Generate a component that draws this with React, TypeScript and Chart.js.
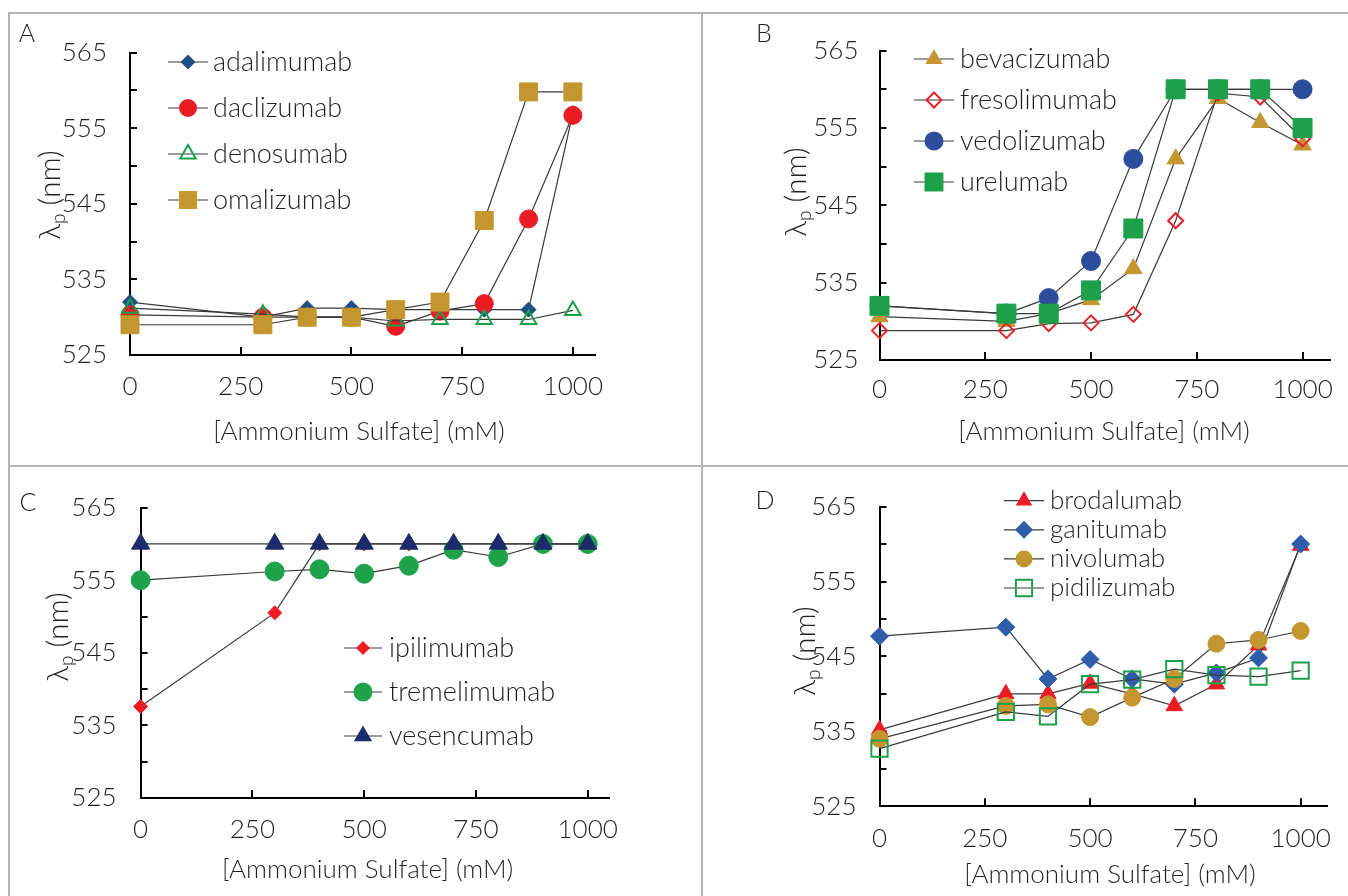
import React, { useEffect, useRef } from 'react';
import { Chart, registerables } from 'chart.js';

Chart.register(...registerables);

// ---------- data ----------
const concentrations = [0, 300, 400, 500, 600, 700, 800, 900, 1000];
const xTickValues = [0, 250, 500, 750, 1000];
const yTickValues = [525, 530, 535, 540, 545, 550, 555, 560, 565];
const yLabelValues = [525, 535, 545, 555, 565];

// Panel A
const adalimumab = [532, 530, 531.2, 531.2, 531, 531, 531, 531, 557];
const daclizumab = [530.3, 530, 530, 530, 528.8, 530.8, 531.8, 543, 556.7];
const denosumab = [531.2, 530.4, 530, 530, 529.5, 529.7, 529.7, 529.7, 530.9];
const omalizumab = [529, 529, 530, 530, 531, 532, 542.8, 559.8, 559.8];

// Panel B
const bevacizumab = [530.6, 530, 531, 532.8, 536.8, 551, 558.8, 555.7, 552.8];
const fresolimumab = [528.8, 528.8, 529.7, 529.8, 530.9, 543, 559.5, 559, 553.6];
const vedolizumab = [532, 531, 533, 537.8, 551, 560, 560, 560, 560];
const urelumab = [532, 531, 531, 534, 542, 560, 560, 560, 555];

// Panel C
const ipilimumab = [537.6, 550.5, 560, 560, 560, 560, 560, 560, 560];
const tremelimumab = [555, 556.2, 556.5, 555.9, 557, 559.2, 558.2, 560, 560];
const vesencumab = [560, 560, 560, 560, 560, 560, 560, 560, 560];

// Panel D
const brodalumab = [535.2, 540, 540, 541.4, 540, 538.4, 541.3, 546.5, 559.8];
const ganitumab = [547.7, 548.9, 542, 544.6, 542, 541.3, 542.8, 544.8, 560];
const nivolumab = [534, 538.4, 538.6, 536.9, 539.5, 542, 546.7, 547.2, 548.4];
const pidilizumab = [532.7, 537.6, 537, 541.3, 541.9, 543.3, 542.5, 542.3, 543.1];

// ---------- styles ----------
const FONT = 'Lato';
const TEXT = '#231f20';
const LINE = '#3a3a3a';
const TICK_SIZE = 26;
const TITLE_SIZE = 26;

type Shape = 'circle' | 'rect' | 'rectRot' | 'triangle';
interface Style { shape: Shape; color: string; open: boolean; r: number }
interface Series { label: string; data: number[]; style: Style }
interface PanelCfg {
  letter: string;
  box: { x: number; y: number; w: number; h: number };
  area: { l: number; r: number; t: number; b: number };
  xMax: number;
  letterPos: [number, number];
  xTitlePos: [number, number];
  yTitlePos: [number, number];
  xLabelOff: number;
  yLabelPad: number;
  legend: { mx: number; y0: number; dy: number; half: number; tx: number; size: number };
  series: Series[];
}

const panels: PanelCfg[] = [
  {
    letter: 'A',
    box: { x: 10, y: 14, w: 690, h: 450 },
    area: { l: 130, r: 595, t: 43.3, b: 355 },
    xMax: 1050,
    letterPos: [27, 34],
    xTitlePos: [359, 432],
    yTitlePos: [50, 195],
    xLabelOff: 32,
    yLabelPad: 23,
    legend: { mx: 188, y0: 62, dy: 46, half: 20, tx: 213, size: 27 },
    series: [
      { label: 'adalimumab', data: adalimumab, style: { shape: 'rectRot', color: '#1f4e84', open: false, r: 7.5 } },
      { label: 'daclizumab', data: daclizumab, style: { shape: 'circle', color: '#ec1c24', open: false, r: 9 } },
      { label: 'denosumab', data: denosumab, style: { shape: 'triangle', color: '#1ca04a', open: true, r: 9 } },
      { label: 'omalizumab', data: omalizumab, style: { shape: 'rect', color: '#c3962f', open: false, r: 12.7 } },
    ],
  },
  {
    letter: 'B',
    box: { x: 704, y: 14, w: 644, h: 450 },
    area: { l: 879.5, r: 1346, t: 42.7, b: 360 },
    xMax: 1065,
    letterPos: [764, 34],
    xTitlePos: [1104, 432],
    yTitlePos: [796, 192],
    xLabelOff: 30,
    yLabelPad: 21,
    legend: { mx: 934, y0: 59, dy: 41, half: 20, tx: 960, size: 27 },
    series: [
      { label: 'bevacizumab', data: bevacizumab, style: { shape: 'triangle', color: '#c3962f', open: false, r: 10 } },
      { label: 'fresolimumab', data: fresolimumab, style: { shape: 'rectRot', color: '#e8202a', open: true, r: 7.5 } },
      { label: 'vedolizumab', data: vedolizumab, style: { shape: 'circle', color: '#2b4d9c', open: false, r: 9.5 } },
      { label: 'urelumab', data: urelumab, style: { shape: 'rect', color: '#1ca04a', open: false, r: 13.4 } },
    ],
  },
  {
    letter: 'C',
    box: { x: 10, y: 468, w: 690, h: 428 },
    area: { l: 140.6, r: 609.6, t: 501.3, b: 798 },
    xMax: 1049,
    letterPos: [28, 503],
    xTitlePos: [367.6, 869.7],
    yTitlePos: [58, 637],
    xLabelOff: 32,
    yLabelPad: 24,
    legend: { mx: 363, y0: 648, dy: 44, half: 19, tx: 389, size: 27 },
    series: [
      { label: 'ipilimumab', data: ipilimumab, style: { shape: 'rectRot', color: '#ee1c25', open: false, r: 7 } },
      { label: 'tremelimumab', data: tremelimumab, style: { shape: 'circle', color: '#1ea34a', open: false, r: 9.5 } },
      { label: 'vesencumab', data: vesencumab, style: { shape: 'triangle', color: '#1b2b6b', open: false, r: 10.5 } },
    ],
  },
  {
    letter: 'D',
    box: { x: 704, y: 468, w: 644, h: 428 },
    area: { l: 879.5, r: 1346, t: 493, b: 806.3 },
    xMax: 1063,
    letterPos: [765, 501],
    xTitlePos: [1110, 874.7],
    yTitlePos: [805, 651],
    xLabelOff: 32,
    yLabelPad: 23,
    legend: { mx: 1024, y0: 500.7, dy: 29.1, half: 20, tx: 1050, size: 26 },
    series: [
      { label: 'brodalumab', data: brodalumab, style: { shape: 'triangle', color: '#ec1c24', open: false, r: 9.5 } },
      { label: 'ganitumab', data: ganitumab, style: { shape: 'rectRot', color: '#2f5daa', open: false, r: 9 } },
      { label: 'nivolumab', data: nivolumab, style: { shape: 'circle', color: '#c3962f', open: false, r: 8.5 } },
      { label: 'pidilizumab', data: pidilizumab, style: { shape: 'rect', color: '#1ca04a', open: true, r: 11.5 } },
    ],
  },
];

function drawMarker(ctx: CanvasRenderingContext2D, st: Style, x: number, y: number) {
  const r = st.r;
  ctx.beginPath();
  if (st.shape === 'circle') {
    ctx.arc(x, y, r, 0, Math.PI * 2);
  } else if (st.shape === 'rect') {
    const h = r * Math.SQRT1_2;
    ctx.rect(x - h, y - h, 2 * h, 2 * h);
  } else if (st.shape === 'rectRot') {
    ctx.moveTo(x, y - r);
    ctx.lineTo(x + r, y);
    ctx.lineTo(x, y + r);
    ctx.lineTo(x - r, y);
    ctx.closePath();
  } else {
    let a = 0;
    ctx.moveTo(x + Math.sin(a) * r, y - Math.cos(a) * r);
    a += (2 * Math.PI) / 3;
    ctx.lineTo(x + Math.sin(a) * r, y - Math.cos(a) * r);
    a += (2 * Math.PI) / 3;
    ctx.lineTo(x + Math.sin(a) * r, y - Math.cos(a) * r);
    ctx.closePath();
  }
  if (st.open) {
    ctx.strokeStyle = st.color;
    ctx.lineWidth = 2;
    ctx.stroke();
  } else {
    ctx.fillStyle = st.color;
    ctx.fill();
  }
}

function makeDecor(p: PanelCfg) {
  const ox = p.box.x;
  const oy = p.box.y;
  return {
    id: 'decor' + p.letter,
    beforeDatasetsDraw(chart: any) {
      const { ctx, chartArea, scales } = chart;
      const xs = scales.x;
      const ys = scales.y;
      ctx.save();
      ctx.strokeStyle = '#000';
      ctx.lineWidth = 2;
      for (const t of ys.ticks) {
        const py = Math.round(ys.getPixelForValue(t.value));
        ctx.beginPath();
        ctx.moveTo(chartArea.left, py);
        ctx.lineTo(chartArea.left + 7, py);
        ctx.stroke();
      }
      for (const t of xs.ticks) {
        if (t.value === 0) continue;
        const px = Math.round(xs.getPixelForValue(t.value));
        ctx.beginPath();
        ctx.moveTo(px, chartArea.bottom);
        ctx.lineTo(px, chartArea.bottom - 8);
        ctx.stroke();
      }
      ctx.restore();
    },
    afterDraw(chart: any) {
      const ctx: CanvasRenderingContext2D = chart.ctx;
      ctx.save();
      ctx.fillStyle = TEXT;
      ctx.textBaseline = 'middle';
      // panel letter
      ctx.textAlign = 'center';
      ctx.font = `300 25px ${FONT}`;
      ctx.fillText(p.letter, p.letterPos[0] - ox, p.letterPos[1] - oy);
      // x title
      ctx.font = `300 ${TITLE_SIZE}px ${FONT}`;
      ctx.fillText('[Ammonium Sulfate] (mM)', p.xTitlePos[0] - ox, p.xTitlePos[1] - oy);
      // y title with subscript
      ctx.save();
      ctx.translate(p.yTitlePos[0] - ox, p.yTitlePos[1] - oy);
      ctx.rotate(-Math.PI / 2);
      ctx.textAlign = 'left';
      const main = `300 30px ${FONT}`;
      const sub = `300 19px ${FONT}`;
      ctx.font = main;
      const w1 = ctx.measureText('λ').width;
      const w3 = ctx.measureText(' (nm)').width;
      ctx.font = sub;
      const w2 = ctx.measureText('p').width;
      const start = -(w1 + w2 + w3) / 2;
      ctx.font = main;
      ctx.fillText('λ', start, 0);
      ctx.font = sub;
      ctx.fillText('p', start + w1, 9);
      ctx.font = main;
      ctx.fillText(' (nm)', start + w1 + w2, 0);
      ctx.restore();
      // legend
      const L = p.legend;
      p.series.forEach((s, i) => {
        const y = L.y0 + i * L.dy - oy;
        const mx = L.mx - ox;
        ctx.strokeStyle = LINE;
        ctx.lineWidth = 1.2;
        ctx.beginPath();
        ctx.moveTo(mx - L.half, y);
        ctx.lineTo(mx + L.half, y);
        ctx.stroke();
        drawMarker(ctx, s.style, mx, y);
        ctx.fillStyle = TEXT;
        ctx.textAlign = 'left';
        ctx.font = `300 ${L.size}px ${FONT}`;
        ctx.fillText(s.label, L.tx - ox, y);
      });
      ctx.restore();
    },
  };
}

function buildConfig(p: PanelCfg): any {
  const n = p.series.length;
  const tickFont = { family: FONT, size: TICK_SIZE, weight: '300' as any };
  return {
    type: 'line',
    data: {
      datasets: p.series.map((s, i) => ({
        label: s.label,
        data: concentrations.map((x, k) => ({ x, y: s.data[k] })),
        borderColor: LINE,
        borderWidth: 1.2,
        pointStyle: s.style.shape,
        pointRadius: s.style.r,
        pointHoverRadius: s.style.r,
        pointBackgroundColor: s.style.open ? 'rgba(0,0,0,0)' : s.style.color,
        pointBorderColor: s.style.color,
        pointBorderWidth: s.style.open ? 2 : 1,
        order: n - i,
        clip: false,
        tension: 0,
        fill: false,
      })),
    },
    options: {
      animation: false,
      responsive: false,
      maintainAspectRatio: false,
      devicePixelRatio: 1,
      events: [],
      layout: {
        padding: {
          left: 0,
          top: p.area.t - p.box.y,
          right: p.box.x + p.box.w - p.area.r,
          bottom: 0,
        },
      },
      plugins: { legend: { display: false }, tooltip: { enabled: false }, title: { display: false } },
      scales: {
        x: {
          type: 'linear',
          min: 0,
          max: p.xMax,
          afterBuildTicks: (s: any) => {
            s.ticks = xTickValues.map((v) => ({ value: v }));
          },
          afterFit: (s: any) => {
            s.height = p.box.y + p.box.h - p.area.b;
          },
          grid: { display: false, drawTicks: false },
          border: { display: true, color: '#000', width: 2 },
          ticks: {
            font: tickFont,
            color: TEXT,
            padding: p.xLabelOff - TICK_SIZE * 0.6,
            maxRotation: 0,
            autoSkip: false,
            callback: (v: number) => String(v),
          },
        },
        y: {
          type: 'linear',
          min: 525,
          max: 565,
          afterBuildTicks: (s: any) => {
            s.ticks = yTickValues.map((v) => ({ value: v }));
          },
          afterFit: (s: any) => {
            s.width = p.area.l - p.box.x;
          },
          grid: { display: false, drawTicks: false },
          border: { display: true, color: '#000', width: 2 },
          ticks: {
            font: tickFont,
            color: TEXT,
            padding: p.yLabelPad,
            autoSkip: false,
            callback: (v: number) => (yLabelValues.includes(v) ? String(v) : ''),
          },
        },
      },
    },
    plugins: [makeDecor(p)],
  };
}

function Panel({ p }: { p: PanelCfg }) {
  const ref = useRef<HTMLCanvasElement>(null);
  useEffect(() => {
    if (!ref.current) return;
    const chart = new Chart(ref.current, buildConfig(p));
    return () => chart.destroy();
  }, [p]);
  return (
    <canvas
      ref={ref}
      width={p.box.w}
      height={p.box.h}
      style={{ position: 'absolute', left: p.box.x, top: p.box.y, width: p.box.w, height: p.box.h, display: 'block' }}
    />
  );
}

const borderColor = '#b4b4b4';

export default function App() {
  return (
    <div style={{ position: 'absolute', left: 0, top: 0, width: 1348, height: 896, background: '#fff', overflow: 'hidden' }}>
      <div style={{ position: 'absolute', left: 8, top: 12, width: 1340, height: 2, background: borderColor }} />
      <div style={{ position: 'absolute', left: 8, top: 12, width: 2, height: 884, background: borderColor }} />
      <div style={{ position: 'absolute', left: 701, top: 12, width: 2, height: 884, background: borderColor }} />
      <div style={{ position: 'absolute', left: 8, top: 465, width: 1340, height: 2, background: borderColor }} />
      {panels.map((p) => (
        <Panel key={p.letter} p={p} />
      ))}
    </div>
  );
}
